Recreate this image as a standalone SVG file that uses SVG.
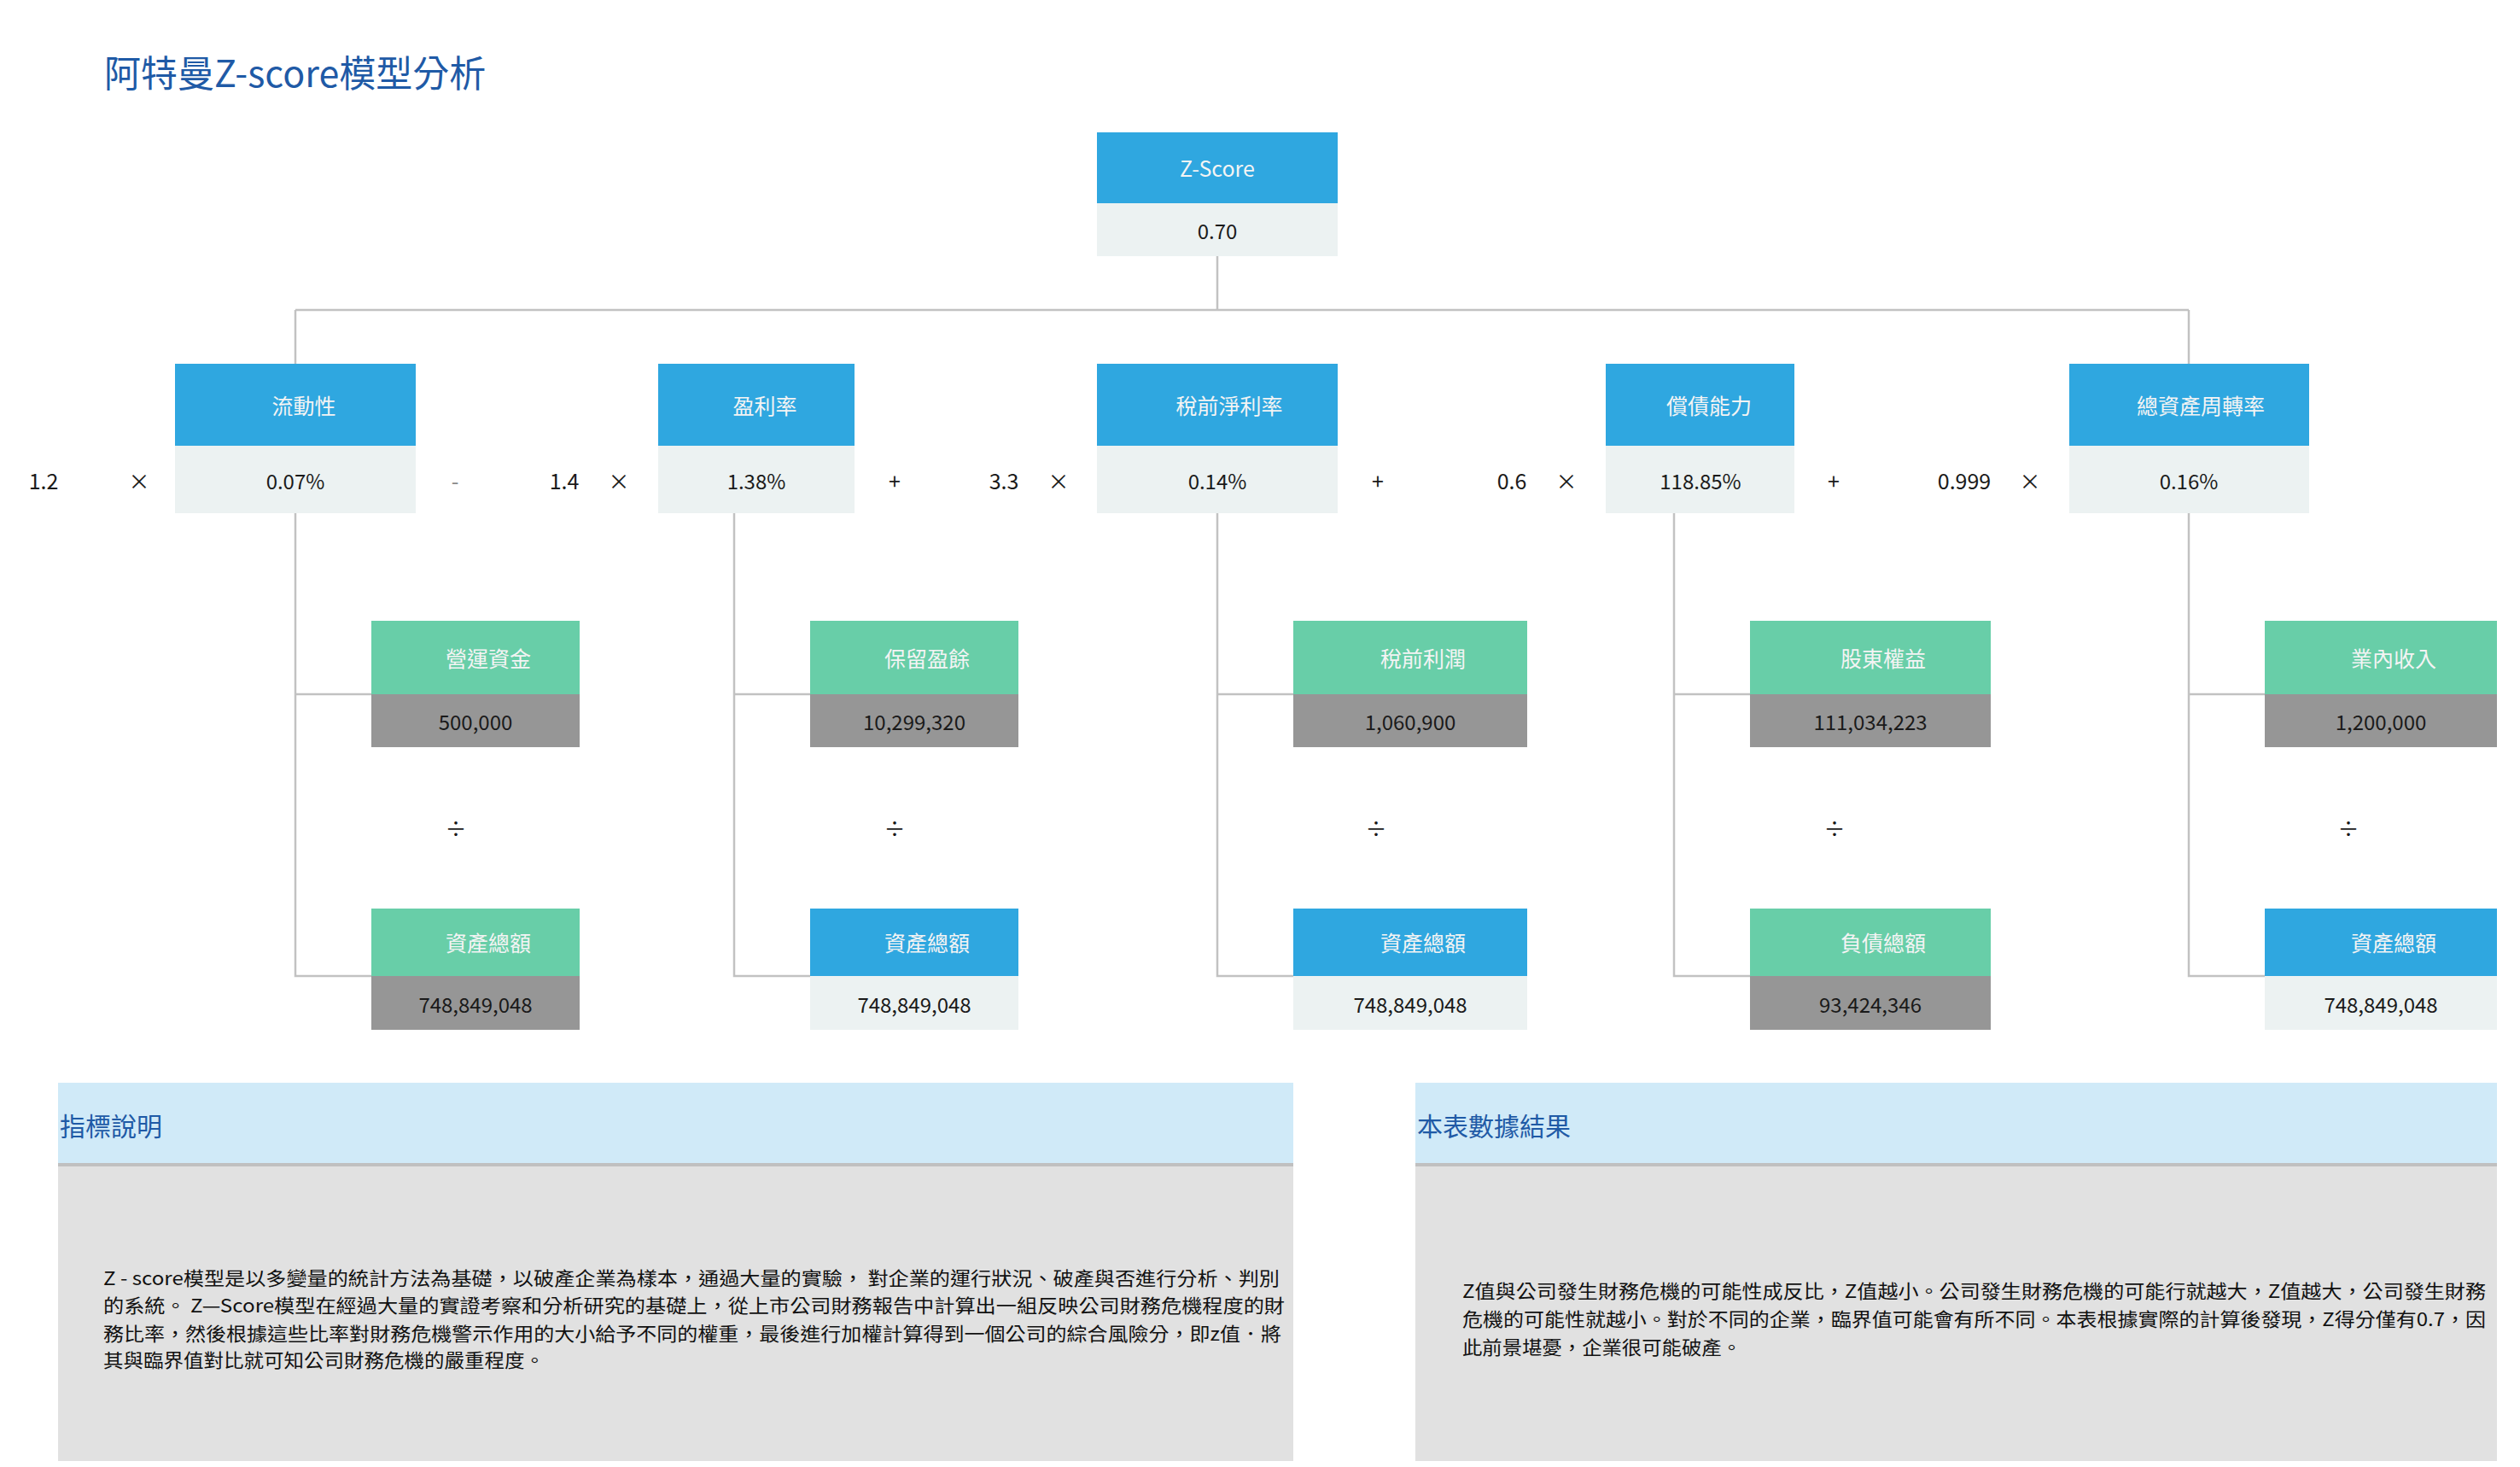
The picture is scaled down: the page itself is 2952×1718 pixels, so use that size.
<svg xmlns="http://www.w3.org/2000/svg" width="2952" height="1718" viewBox="0 0 2952 1718">
<style>
text{font-family:"Noto Sans CJK TC","Noto Sans CJK SC","Liberation Sans",sans-serif}
.hb{fill:#2fa7e0}.hg{fill:#68cea8}.vl{fill:#ecf2f2}.vg{fill:#969696}
.ht{fill:#f4f4f4;font-size:25px;text-anchor:middle;dominant-baseline:central}
.vt{fill:#1a1a1a;font-size:24px;text-anchor:middle;dominant-baseline:central}
.op{fill:#1a1a1a;font-size:25px;text-anchor:middle;dominant-baseline:central}
.cn{stroke:#c2c2c2;stroke-width:2.5;fill:none}
.pt{fill:#1f5aa6;font-size:30px;dominant-baseline:central}
.bt{fill:#111;font-size:22px}
</style>
<rect width="2952" height="1718" fill="#fff"/>
<text x="122" y="83" style="fill:#1f5aa6;font-size:43px;dominant-baseline:central">阿特曼Z-score模型分析</text>
<g id="connectors">
<path class="cn" d="M1426 300V363M346 363H2564M346 363V426M2564 363V426"/>
<path class="cn" d="M346 601V1143H435M346 813H435"/>
<path class="cn" d="M860 601V1143H949M860 813H949"/>
<path class="cn" d="M1426 601V1143H1515M1426 813H1515"/>
<path class="cn" d="M1961 601V1143H2050M1961 813H2050"/>
<path class="cn" d="M2564 601V1143H2653M2564 813H2653"/>
</g>
<g id="zscore"><rect class="hb" x="1285" y="155" width="282" height="83"/><rect class="vl" x="1285" y="238" width="282" height="62"/><text class="ht" x="1426" y="196">Z-Score</text><text class="vt" x="1426" y="269">0.70</text></g>
<g id="l2a"><rect class="hb" x="205" y="426" width="282" height="96"/><rect class="vl" x="205" y="522" width="282" height="79"/><text class="ht" x="356" y="474">流動性</text><text class="vt" x="346" y="562">0.07%</text></g>
<g id="l2b"><rect class="hb" x="771" y="426" width="230" height="96"/><rect class="vl" x="771" y="522" width="230" height="79"/><text class="ht" x="896" y="474">盈利率</text><text class="vt" x="886" y="562">1.38%</text></g>
<g id="l2c"><rect class="hb" x="1285" y="426" width="282" height="96"/><rect class="vl" x="1285" y="522" width="282" height="79"/><text class="ht" x="1440" y="474">稅前淨利率</text><text class="vt" x="1426" y="562">0.14%</text></g>
<g id="l2d"><rect class="hb" x="1881" y="426" width="221" height="96"/><rect class="vl" x="1881" y="522" width="221" height="79"/><text class="ht" x="2002" y="474">償債能力</text><text class="vt" x="1992" y="562">118.85%</text></g>
<g id="l2e"><rect class="hb" x="2424" y="426" width="281" height="96"/><rect class="vl" x="2424" y="522" width="281" height="79"/><text class="ht" x="2578" y="474">總資產周轉率</text><text class="vt" x="2564" y="562">0.16%</text></g>
<g id="ops">
<text class="op" x="51" y="562">1.2</text><text class="op" x="163" y="562">×</text>
<text class="op" x="533" y="562" style="fill:#888">-</text><text class="op" x="661" y="562">1.4</text><text class="op" x="725" y="562">×</text>
<text class="op" x="1048" y="562">+</text><text class="op" x="1176" y="562">3.3</text><text class="op" x="1240" y="562">×</text>
<text class="op" x="1614" y="562">+</text><text class="op" x="1771" y="562">0.6</text><text class="op" x="1835" y="562">×</text>
<text class="op" x="2148" y="562">+</text><text class="op" x="2301" y="562">0.999</text><text class="op" x="2378" y="562">×</text>
<text class="op" x="534" y="969">÷</text><text class="op" x="1048" y="969">÷</text><text class="op" x="1612" y="969">÷</text><text class="op" x="2149" y="969">÷</text><text class="op" x="2751" y="969">÷</text>
</g>
<g id="c1t"><rect class="hg" x="435" y="727" width="244" height="86"/><rect class="vg" x="435" y="813" width="244" height="62"/><text class="ht" x="572" y="770">營運資金</text><text class="vt" x="557" y="844">500,000</text></g>
<g id="c1b"><rect class="hg" x="435" y="1064" width="244" height="79"/><rect class="vg" x="435" y="1143" width="244" height="63"/><text class="ht" x="572" y="1103">資產總額</text><text class="vt" x="557" y="1175">748,849,048</text></g>
<g id="c2t"><rect class="hg" x="949" y="727" width="244" height="86"/><rect class="vg" x="949" y="813" width="244" height="62"/><text class="ht" x="1086" y="770">保留盈餘</text><text class="vt" x="1071" y="844">10,299,320</text></g>
<g id="c2b"><rect class="hb" x="949" y="1064" width="244" height="79"/><rect class="vl" x="949" y="1143" width="244" height="63"/><text class="ht" x="1086" y="1103">資產總額</text><text class="vt" x="1071" y="1175">748,849,048</text></g>
<g id="c3t"><rect class="hg" x="1515" y="727" width="274" height="86"/><rect class="vg" x="1515" y="813" width="274" height="62"/><text class="ht" x="1667" y="770">稅前利潤</text><text class="vt" x="1652" y="844">1,060,900</text></g>
<g id="c3b"><rect class="hb" x="1515" y="1064" width="274" height="79"/><rect class="vl" x="1515" y="1143" width="274" height="63"/><text class="ht" x="1667" y="1103">資產總額</text><text class="vt" x="1652" y="1175">748,849,048</text></g>
<g id="c4t"><rect class="hg" x="2050" y="727" width="282" height="86"/><rect class="vg" x="2050" y="813" width="282" height="62"/><text class="ht" x="2206" y="770">股東權益</text><text class="vt" x="2191" y="844">111,034,223</text></g>
<g id="c4b"><rect class="hg" x="2050" y="1064" width="282" height="79"/><rect class="vg" x="2050" y="1143" width="282" height="63"/><text class="ht" x="2206" y="1103">負債總額</text><text class="vt" x="2191" y="1175">93,424,346</text></g>
<g id="c5t"><rect class="hg" x="2653" y="727" width="272" height="86"/><rect class="vg" x="2653" y="813" width="272" height="62"/><text class="ht" x="2804" y="770">業內收入</text><text class="vt" x="2789" y="844">1,200,000</text></g>
<g id="c5b"><rect class="hb" x="2653" y="1064" width="272" height="79"/><rect class="vl" x="2653" y="1143" width="272" height="63"/><text class="ht" x="2804" y="1103">資產總額</text><text class="vt" x="2789" y="1175">748,849,048</text></g>
<g id="panel1">
<rect x="68" y="1268" width="1447" height="94" fill="#d0eaf8"/><rect x="68" y="1362" width="1447" height="4" fill="#c0c0c0"/><rect x="68" y="1366" width="1447" height="345" fill="#e1e1e1"/>
<text class="pt" x="70" y="1317">指標說明</text>
<text class="bt" x="121" y="1505" textLength="1378" lengthAdjust="spacingAndGlyphs">Z - score模型是以多變量的統計方法為基礎，以破產企業為樣本，通過大量的實驗， 對企業的運行狀況、破產與否進行分析、判別</text>
<text class="bt" x="121" y="1537" textLength="1384" lengthAdjust="spacingAndGlyphs">的系統。 Z—Score模型在經過大量的實證考察和分析研究的基礎上，從上市公司財務報告中計算出一組反映公司財務危機程度的財</text>
<text class="bt" x="121" y="1570" textLength="1380" lengthAdjust="spacingAndGlyphs">務比率，然後根據這些比率對財務危機警示作用的大小給予不同的權重，最後進行加權計算得到一個公司的綜合風險分，即z值．將</text>
<text class="bt" x="121" y="1601" textLength="517" lengthAdjust="spacingAndGlyphs">其與臨界值對比就可知公司財務危機的嚴重程度。</text>
</g>
<g id="panel2">
<rect x="1658" y="1268" width="1267" height="94" fill="#d0eaf8"/><rect x="1658" y="1362" width="1267" height="4" fill="#c0c0c0"/><rect x="1658" y="1366" width="1267" height="345" fill="#e1e1e1"/>
<text class="pt" x="1660" y="1317">本表數據結果</text>
<text class="bt" x="1713" y="1520" textLength="1199" lengthAdjust="spacingAndGlyphs">Z值與公司發生財務危機的可能性成反比，Z值越小。公司發生財務危機的可能行就越大，Z值越大，公司發生財務</text>
<text class="bt" x="1713" y="1553" textLength="1199" lengthAdjust="spacingAndGlyphs">危機的可能性就越小。對於不同的企業，臨界值可能會有所不同。本表根據實際的計算後發現，Z得分僅有0.7，因</text>
<text class="bt" x="1713" y="1586" textLength="327" lengthAdjust="spacingAndGlyphs">此前景堪憂，企業很可能破產。</text>
</g>
</svg>
